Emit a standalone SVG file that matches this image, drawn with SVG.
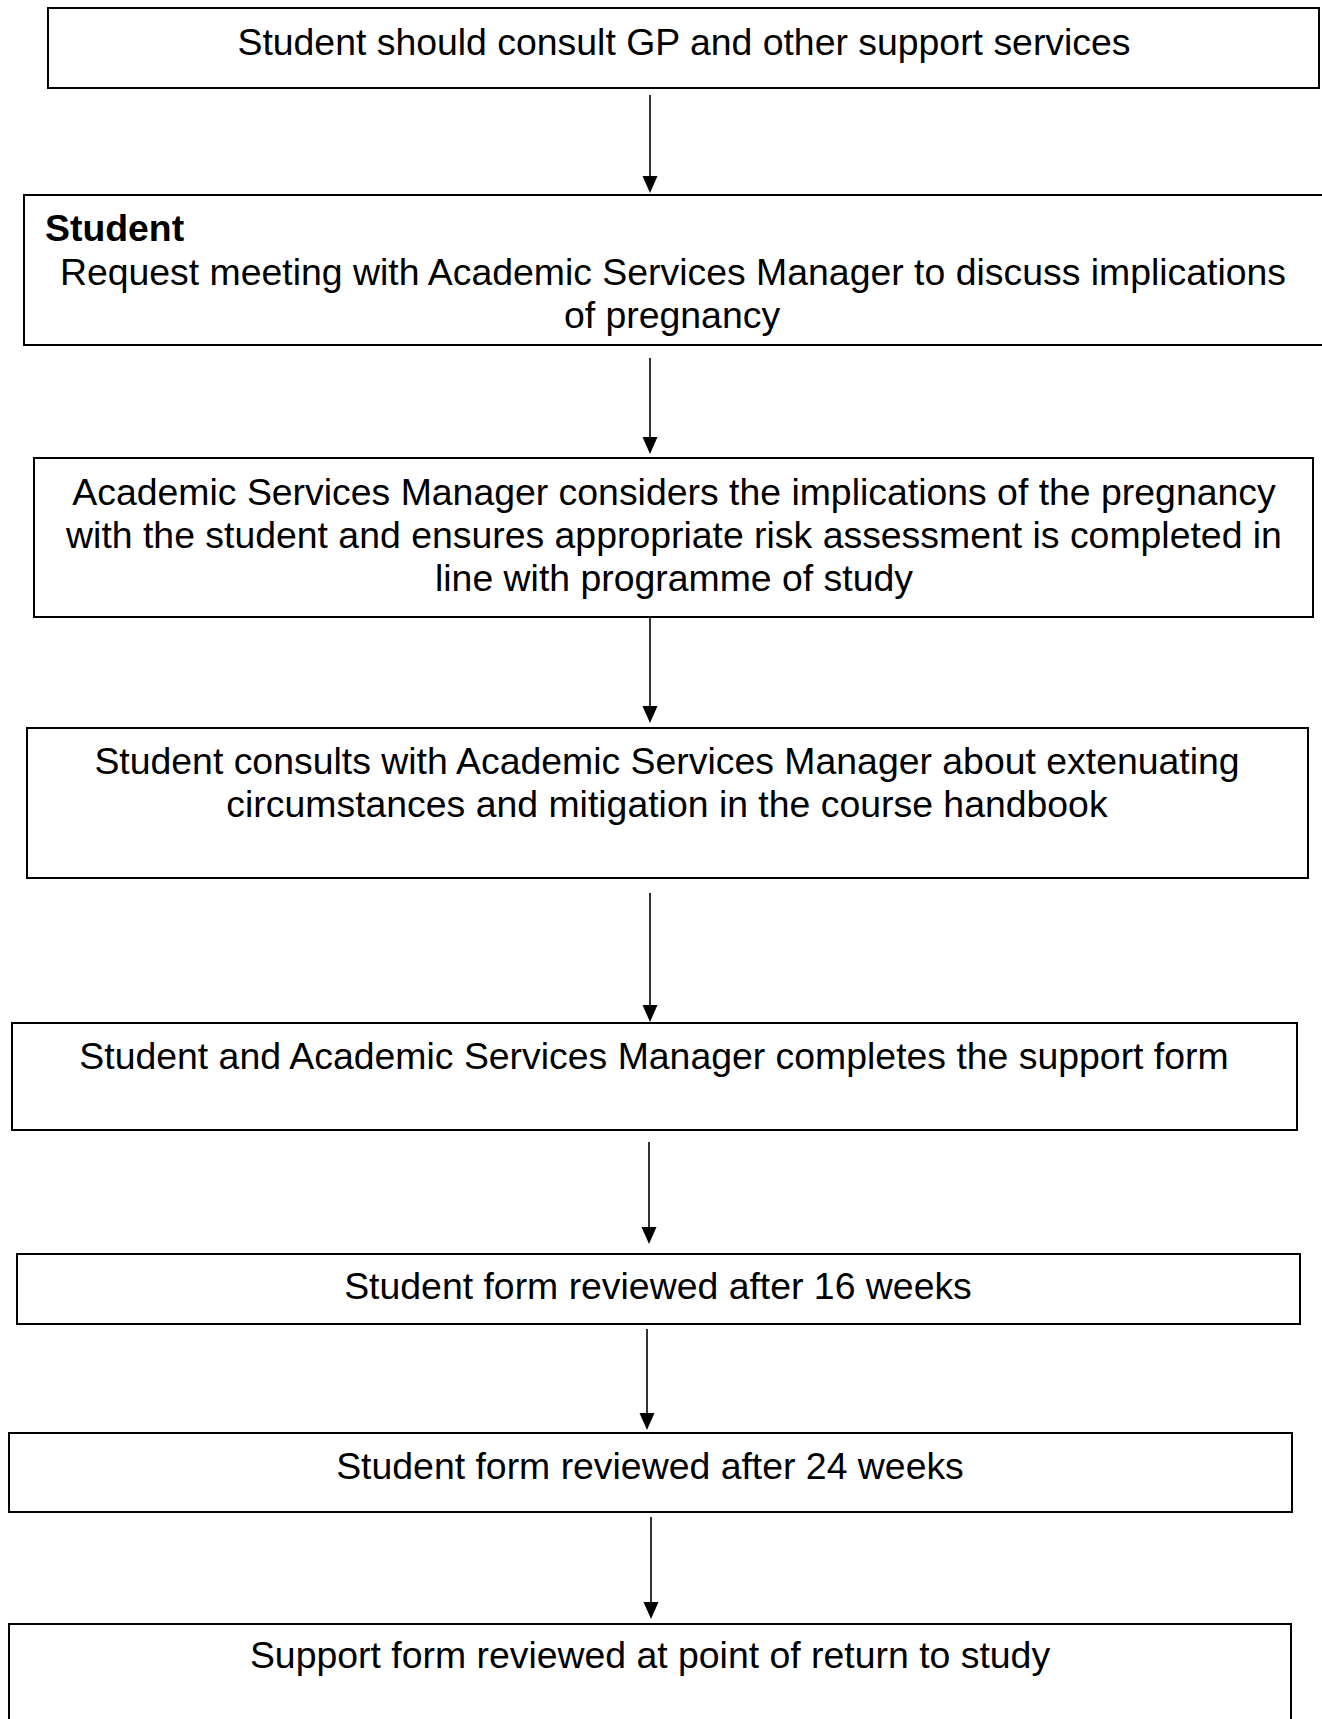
<svg xmlns="http://www.w3.org/2000/svg" width="1322" height="1719" viewBox="0 0 1322 1719">
<style>
.box{fill:#fff;stroke:#000;stroke-width:2}
.t{font-family:"Liberation Sans",Arial,sans-serif;font-size:37.4px;fill:#000;text-anchor:middle}
.b{font-weight:bold;text-anchor:start}
.c{stroke:#000;stroke-width:1.6;fill:none}
.h{fill:#000;stroke:none}
</style>
<rect width="1322" height="1719" fill="#fff"/>
<g id="connectors">
<line class="c" x1="650" y1="95" x2="650" y2="180"/><polygon class="h" points="642.5,176 657.5,176 650,193"/>
<line class="c" x1="650" y1="358" x2="650" y2="441"/><polygon class="h" points="642.5,437 657.5,437 650,454"/>
<line class="c" x1="650" y1="618" x2="650" y2="710"/><polygon class="h" points="642.5,706 657.5,706 650,723"/>
<line class="c" x1="650" y1="893" x2="650" y2="1009"/><polygon class="h" points="642.5,1005 657.5,1005 650,1022"/>
<line class="c" x1="649" y1="1142" x2="649" y2="1231"/><polygon class="h" points="641.5,1227 656.5,1227 649,1244"/>
<line class="c" x1="647" y1="1329" x2="647" y2="1417"/><polygon class="h" points="639.5,1413 654.5,1413 647,1430"/>
<line class="c" x1="651" y1="1517" x2="651" y2="1606"/><polygon class="h" points="643.5,1602 658.5,1602 651,1619"/>
</g>
<g id="n1"><rect class="box" x="48" y="8" width="1271" height="80"/><text class="t" x="684" y="55">Student should consult GP and other support services</text></g>
<g id="n2"><rect class="box" x="24" y="195" width="1310" height="150"/><text class="t b" x="45" y="241">Student</text><text class="t" x="673" y="285">Request meeting with Academic Services Manager to discuss implications</text><text class="t" x="672" y="328">of pregnancy</text></g>
<g id="n3"><rect class="box" x="34" y="458" width="1279" height="159"/><text class="t" x="674" y="505">Academic Services Manager considers the implications of the pregnancy</text><text class="t" x="674" y="548">with the student and ensures appropriate risk assessment is completed in</text><text class="t" x="674" y="591">line with programme of study</text></g>
<g id="n4"><rect class="box" x="27" y="728" width="1281" height="150"/><text class="t" x="667" y="774">Student consults with Academic Services Manager about extenuating</text><text class="t" x="667" y="817">circumstances and mitigation in the course handbook</text></g>
<g id="n5"><rect class="box" x="12" y="1023" width="1285" height="107"/><text class="t" x="654" y="1069">Student and Academic Services Manager completes the support form</text></g>
<g id="n6"><rect class="box" x="17" y="1254" width="1283" height="70"/><text class="t" x="658" y="1299">Student form reviewed after 16 weeks</text></g>
<g id="n7"><rect class="box" x="9" y="1433" width="1283" height="79"/><text class="t" x="650" y="1479">Student form reviewed after 24 weeks</text></g>
<g id="n8"><rect class="box" x="9" y="1624" width="1282" height="110"/><text class="t" x="650" y="1668">Support form reviewed at point of return to study</text></g>
</svg>
